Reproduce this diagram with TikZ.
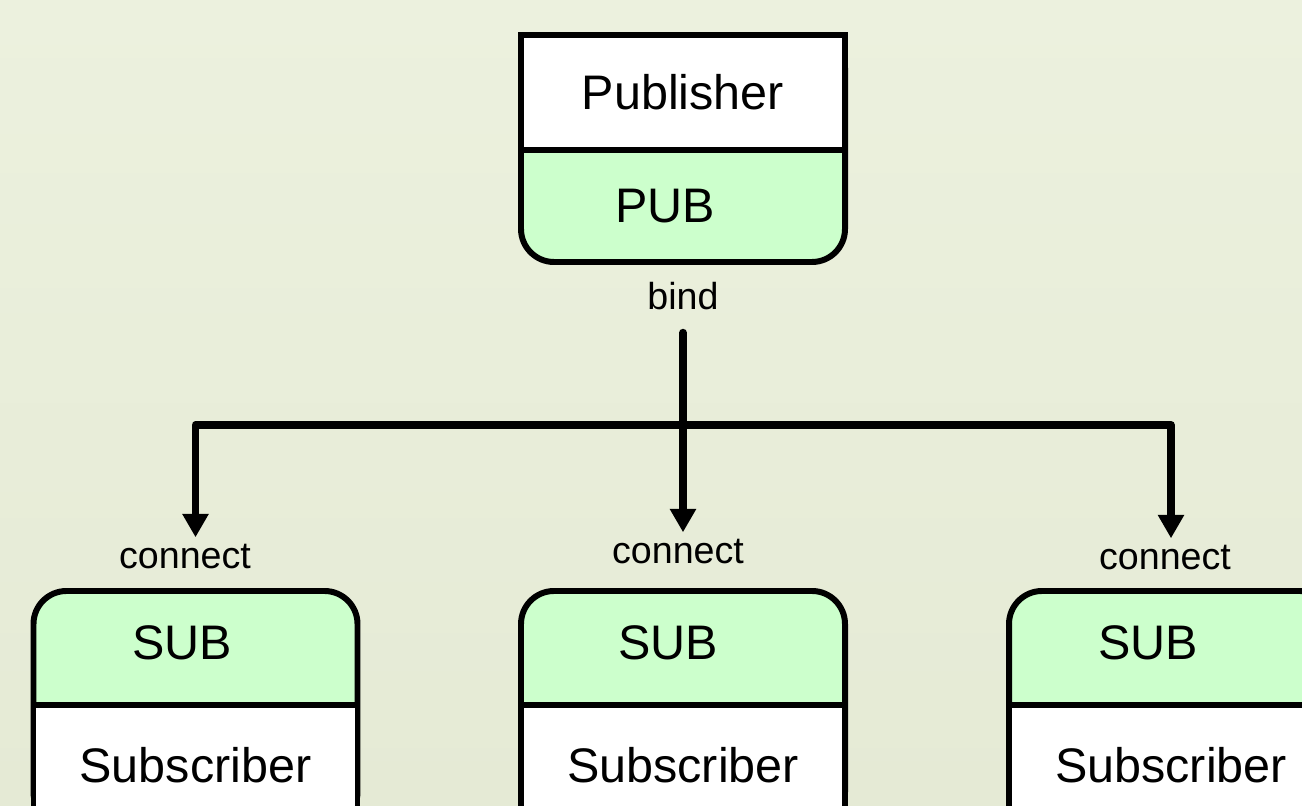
\documentclass[tikz,border=0pt]{standalone}
\usepackage{fontspec}
\setmainfont{Liberation Sans}
\usetikzlibrary{arrows.meta}

\definecolor{paper top}{RGB}{236,241,222}
\definecolor{paper bottom}{RGB}{229,234,213}
\definecolor{sockgreen}{RGB}{204,255,204}

\tikzset{
   bigtext/.style={font=\fontsize{27.6}{33}\selectfont, inner sep=0pt},
   smalltext/.style={font=\fontsize{21.4}{26}\selectfont, inner sep=0pt},
   sock/.style={draw, line width=3.4pt, fill=sockgreen, rounded corners=0.66cm,
      minimum width=6.48cm, inner sep=0pt},
   part/.style={draw, line width=3.4pt, fill=white,
      minimum width=6.48cm, inner sep=0pt},
   flow/.style={line width=4.4pt, line cap=round, line join=round,
      shorten >=0.14cm, -{Triangle[width=0.5cm,length=0.47cm]}}
}

\begin{document}
\begin{tikzpicture}

   \useasboundingbox (0,0) rectangle (26.04,16.1);
   \fill [top color=paper top, bottom color=paper bottom] (0,0) rectangle (26.04,16.1);
   \clip (0,0) rectangle (26.04,16.1);

   % publisher on top
   \node [sock, minimum height=4.54cm] (pubbox) at (13.66,13.13) {};
   \node [part, bigtext, minimum height=2.30cm, anchor=north] (publisher) at (pubbox.north) {Publisher};
   \node [bigtext] (pub) at (13.30,11.98) {PUB};
   \node [smalltext] (bind) at (13.66,10.18) {bind};

   % three subscribers below
   \foreach \name/\x/\dx in {subL/3.91/0.27, subM/13.66/0.30, subR/23.42/0.46} {
      \node [sock, minimum height=4.68cm, anchor=north] (\name) at (\x,4.34) {};
      \node [part, bigtext, minimum height=2.40cm, anchor=north] (\name body) at (\x,2.06) {Subscriber};
      \node [bigtext] (\name tag) at (\x-\dx,3.24) {SUB};
   }

   \node [smalltext] (connectL) at (3.70,4.96) {connect};
   \node [smalltext] (connectM) at (13.56,5.06) {connect};
   \node [smalltext] (connectR) at (23.30,4.94) {connect};

   \coordinate (hub) at (13.66,7.60);

   \draw [flow, shorten <=0.45cm] (bind.south) -- (connectM.north -| bind.south);
   \draw [flow] (hub) -| (connectL.north -| subL.north);
   \draw [flow] (hub) -| (connectR.north -| subR.north);

\end{tikzpicture}
\end{document}
